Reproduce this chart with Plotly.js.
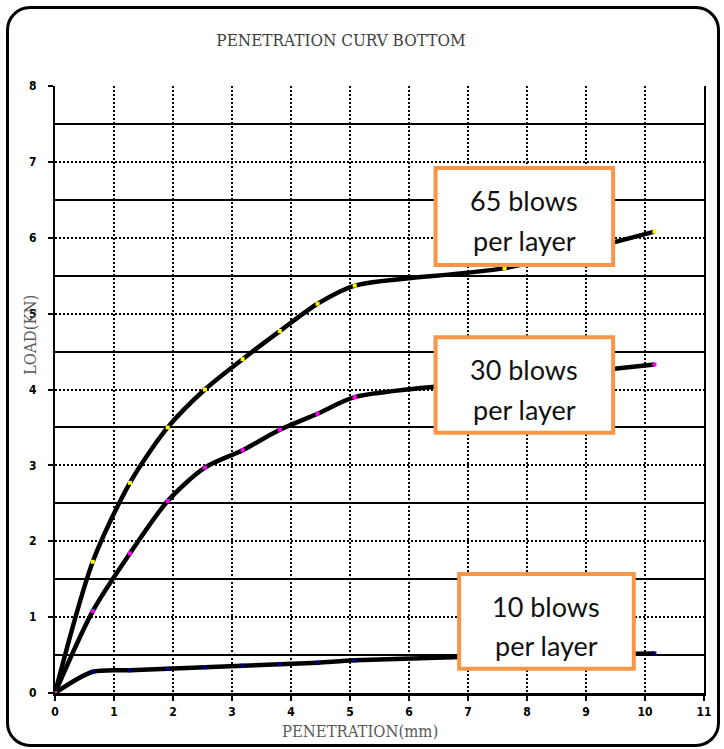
<!DOCTYPE html>
<html>
<head>
<meta charset="utf-8">
<script src="https://cdn.plot.ly/plotly-3.0.1.min.js"></script>
<style>
  html, body { margin: 0; padding: 0; background: #ffffff; }
  #wrap { position: relative; width: 724px; height: 749px; }
  #chart { width: 724px; height: 749px; }
  #frame { position: absolute; left: 6px; top: 6px; width: 714px; height: 741px;
           box-sizing: border-box; border: 3px solid #000; border-radius: 24px; pointer-events: none; }
</style>
</head>
<body>
<div id="wrap">
  <div id="chart"></div>
  <div id="frame"></div>
</div>
<script>
// Penetration (mm)
const penetration = [0, 0.64, 1.27, 1.91, 2.54, 3.18, 3.81, 4.45, 5.08, 7.62, 10.16];
// Load (kN) per compaction effort
const load65 = [0, 1.73, 2.77, 3.50, 4.00, 4.40, 4.77, 5.13, 5.37, 5.60, 6.08];
const load30 = [0, 1.08, 1.84, 2.53, 2.97, 3.20, 3.47, 3.68, 3.90, 4.12, 4.33];
const load10 = [0, 0.28, 0.30, 0.32, 0.34, 0.36, 0.38, 0.40, 0.43, 0.49, 0.52];

const seriesNames = ["10 blows per layer", "65 blows per layer", "30 blows per layer"];
const xTicks = [0,1,2,3,4,5,6,7,8,9,10,11];
const yTicks = [0,1,2,3,4,5,6,7,8];

function trace(y, name, mcolor) {
  return {
    x: penetration, y: y, name: name, type: 'scatter', mode: 'lines+markers',
    line: { color: '#000000', width: 4.5, shape: 'spline', smoothing: 0.8 },
    marker: { symbol: 'square', size: 4, color: mcolor, line: { width: 0 } },
    hoverinfo: 'x+y'
  };
}

const data = [
  trace(load10, seriesNames[0], '#000080'),
  trace(load65, seriesNames[1], '#FFFF00'),
  trace(load30, seriesNames[2], '#FF00FF')
];

const boxLine = { color: '#F79646', width: 4 };
function box(x0, x1, y0, y1) {
  return { type: 'rect', xref: 'x', yref: 'y', x0: x0, x1: x1, y0: y0, y1: y1,
           fillcolor: '#ffffff', line: boxLine, layer: 'above' };
}
function label(x, y, t) {
  return { xref: 'x', yref: 'y', x: x, y: y, text: t, showarrow: false,
           xanchor: 'center', yanchor: 'middle',
           font: { family: 'Lato, "Open Sans", sans-serif', size: 27, color: '#111111' } };
}

const axisFont = { family: '"Liberation Sans Narrow", "DejaVu Sans Condensed", "Liberation Sans", sans-serif', size: 12, color: '#000000', weight: 'bold' };
const titleFamily = '"DejaVu Serif Condensed", "Liberation Serif", serif';

const layout = {
  width: 724, height: 749,
  margin: { l: 55, r: 20, t: 86, b: 56 },
  paper_bgcolor: '#ffffff', plot_bgcolor: '#ffffff',
  showlegend: false,
  title: { text: 'PENETRATION CURV BOTTOM', x: 0.471, xanchor: 'center', y: 0.947, yanchor: 'middle',
           font: { family: titleFamily, size: 17, color: '#404040' } },
  xaxis: {
    range: [0, 11], tickvals: xTicks, ticktext: xTicks.map(String),
    showgrid: true, gridcolor: '#000000', gridwidth: 2, griddash: '2px,2px',
    showline: true, linecolor: '#000000', linewidth: 3, mirror: false,
    ticks: 'outside', ticklen: 5, tickwidth: 2, tickcolor: '#000000', ticklabelstandoff: 1,
    tickfont: axisFont, zeroline: false, fixedrange: true
  },
  yaxis: {
    range: [0, 8], tickvals: yTicks, ticktext: yTicks.map(String),
    showgrid: true, gridcolor: '#000000', gridwidth: 2, griddash: '2px,2px',
    minor: { tick0: 0.5, dtick: 1, showgrid: true, gridcolor: '#000000', gridwidth: 2, griddash: 'solid', ticks: '' },
    showline: true, linecolor: '#000000', linewidth: 2, mirror: true,
    ticks: 'outside', ticklen: 5, tickwidth: 2, tickcolor: '#000000', ticklabelstandoff: 9,
    tickfont: axisFont, zeroline: false, fixedrange: true
  },
  shapes: [
    box(6.45, 9.46, 5.64, 6.92),
    box(6.45, 9.46, 3.43, 4.69),
    box(6.85, 9.81, 0.32, 1.57)
  ],
  annotations: [
    label(7.95, 6.49, '65 blows'), label(7.95, 5.97, 'per layer'),
    label(7.95, 4.26, '30 blows'), label(7.95, 3.73, 'per layer'),
    label(8.33, 1.14, '10 blows'), label(8.33, 0.62, 'per layer'),
    { xref: 'paper', yref: 'paper', x: (360 - 55) / 649, y: -(731 - 693) / 607, text: 'PENETRATION(mm)',
      showarrow: false, xanchor: 'center', yanchor: 'middle',
      font: { family: titleFamily, size: 16.5, color: '#595959' } },
    { xref: 'paper', yref: 'paper', x: -(55 - 30) / 649, y: (693 - 335) / 607, text: 'LOAD(KN)', textangle: -90,
      showarrow: false, xanchor: 'center', yanchor: 'middle',
      font: { family: titleFamily, size: 16.5, color: '#595959' } }
  ]
};

Plotly.newPlot('chart', data, layout, { displayModeBar: false, staticPlot: true });
</script>
</body>
</html>
